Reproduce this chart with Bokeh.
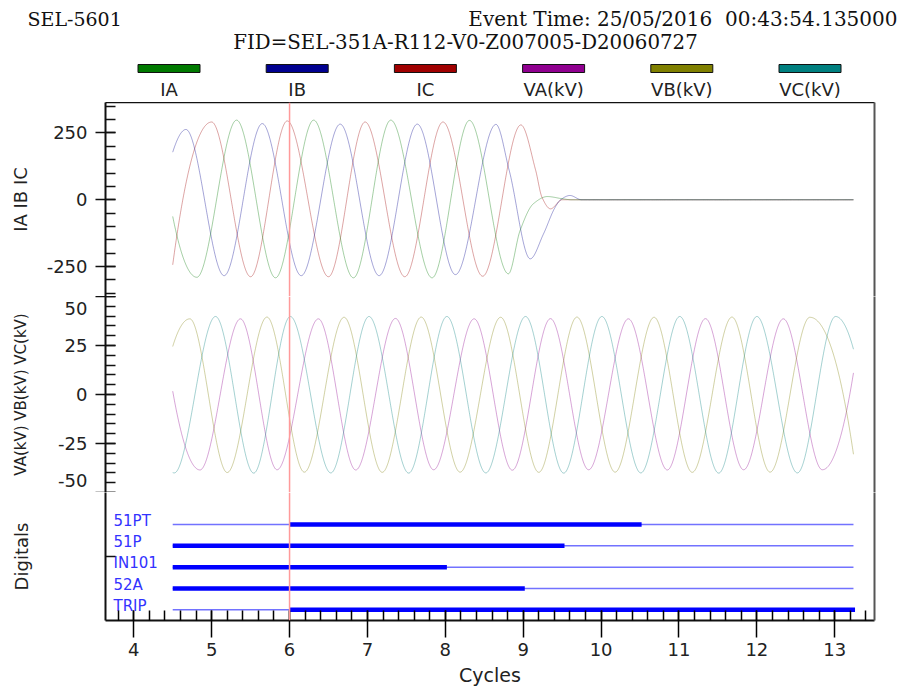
import numpy as np
from bokeh.plotting import figure
from bokeh.layouts import column, row
from bokeh.models import (Range1d, LinearAxis, SingleIntervalTicker, FixedTicker,
                          Span, ColumnDataSource)
from bokeh.core.properties import value
from bokeh.embed import file_html
from bokeh.resources import INLINE

# ---------------- event record (time in cycles) ----------------
t_start, t_end = 4.5, 13.24
cursor_t = 6.0

# phase currents: knots (time, amps) at extremes / shape points of each trace
ia_t = [4.31, 4.81, 5.32, 5.82, 6.31, 6.82, 7.30, 7.83, 8.31, 8.81, 8.96, 9.13, 9.31, 9.50, 9.62, 13.24]
ia_v = [298, -290, 298, -292, 298, -292, 298, -292, 297, -277, -115, -15, 12, 4, 0, 0]

ib_t = [4.50, 4.67, 5.16, 5.65, 6.15, 6.65, 7.15, 7.64, 8.13, 8.65, 8.82, 9.09, 9.26, 9.41, 9.48, 9.60, 9.75, 13.24]
ib_v = [178, 263, -284, 285, -284, 283, -284, 283, -280, 282, 110, -221, -128, -28, 0, 16, 0, 0]

ic_t = [4.48, 5.00, 5.50, 5.97, 6.50, 6.97, 7.48, 7.97, 8.48, 8.97, 9.16, 9.24, 9.35, 9.50, 13.24]
ic_v = [-288, 291, -288, 295, -288, 291, -288, 291, -286, 280, 110, 10, -34, 0, 0]

# phase voltages (kV): knots at peaks and troughs
va_t = [4.36, 4.85, 5.37, 5.84, 6.37, 6.85, 7.36, 7.85, 8.37, 8.86, 9.35, 9.84, 10.35, 10.85, 11.34, 11.83, 12.34, 12.84, 13.34]
va_v = [39.0, -38.5, 38.6, -38.4, 38.6, -38.5, 38.8, -38.4, 38.6, -38.6, 38.7, -38.4, 38.6, -38.5, 38.7, -38.4, 38.6, -38.4, 38.8]

vb_t = [4.21, 4.72, 5.20, 5.71, 6.19, 6.70, 7.19, 7.69, 8.19, 8.71, 9.20, 9.69, 10.18, 10.68, 11.17, 11.68, 12.17, 12.68, 13.26]
vb_v = [-40.0, 38.6, -39.8, 39.5, -39.6, 39.4, -39.7, 39.5, -39.6, 39.4, -39.7, 39.5, -39.6, 39.4, -39.7, 39.5, -39.6, 39.4, -36.0]

vc_t = [4.03, 4.52, 5.05, 5.54, 6.01, 6.53, 7.02, 7.53, 8.02, 8.52, 9.03, 9.52, 10.01, 10.51, 11.01, 11.51, 12.00, 12.52, 13.01, 13.51]
vc_v = [40.0, -40.0, 39.8, -40.1, 39.8, -40.0, 39.8, -40.1, 39.8, -40.0, 39.8, -40.1, 39.8, -40.0, 39.8, -40.1, 39.8, -40.0, 39.8, -40.0]

# digital elements: asserted interval of each
dig_names = ["51PT", "51P", "IN101", "52A", "TRIP"]
dig_rows = [4.5, 3.5, 2.5, 1.5, 0.5]
dig_on_start = [6.00, 4.50, 4.50, 4.50, 6.00]
dig_on_end = [10.52, 9.53, 8.02, 9.02, 13.26]

# axis tick labels (end labels of the voltage scale sit just inside the panel)
i_ticks = {250: "250", 0: "0", -250: "-250"}
v_ticks = {50: "\n50", 25: "25", 0: "0", -25: "-25", -50: "-50\n"}

# legend / channel names and colours
chan_names = ["IA", "IB", "IC", "VA(kV)", "VB(kV)", "VC(kV)"]
chan_colors = ["#007a00", "#000090", "#a00000", "#900090", "#808000", "#008080"]

# ---------------- layout constants ----------------
W = 900
LEFT, RIGHT = 105, 26
HEAD_H, I_H, V_H, D_H, BOTTOM = 102, 194, 196, 130, 66
X_RANGE = (3.637, 13.51)
SANS = "DejaVu Sans"
SERIF = "DejaVu Serif"


def pchip(tk, vk, t):
    """Monotone cubic curve through the knots (flat at extremes)."""
    tk = np.asarray(tk, float)
    vk = np.asarray(vk, float)
    h = np.diff(tk)
    d = np.diff(vk) / h
    n = len(tk)
    m = np.zeros(n)
    for k in range(1, n - 1):
        if d[k - 1] * d[k] > 0:
            w1 = 2 * h[k] + h[k - 1]
            w2 = h[k] + 2 * h[k - 1]
            m[k] = (w1 + w2) / (w1 / d[k - 1] + w2 / d[k])

    def end_slope(h0, h1, d0, d1):
        mm = ((2 * h0 + h1) * d0 - h0 * d1) / (h0 + h1)
        if np.sign(mm) != np.sign(d0):
            return 0.0
        if np.sign(d0) != np.sign(d1) and abs(mm) > 3 * abs(d0):
            return 3 * d0
        return mm

    m[0] = end_slope(h[0], h[1], d[0], d[1])
    m[-1] = end_slope(h[-1], h[-2], d[-1], d[-2])
    idx = np.clip(np.searchsorted(tk, t, side="right") - 1, 0, n - 2)
    s = (t - tk[idx]) / h[idx]
    h00 = 2 * s**3 - 3 * s**2 + 1
    h10 = s**3 - 2 * s**2 + s
    h01 = -2 * s**3 + 3 * s**2
    h11 = s**3 - s**2
    return h00 * vk[idx] + h10 * h[idx] * m[idx] + h01 * vk[idx + 1] + h11 * h[idx] * m[idx + 1]


tt = np.linspace(t_start, t_end, 2000)
xr = Range1d(*X_RANGE)


def style_left_axis(ax, label, label_size, standoff):
    ax.axis_label = label
    ax.axis_label_text_font = SANS
    ax.axis_label_text_font_size = label_size
    ax.axis_label_text_font_style = "normal"
    ax.axis_label_text_color = "#222222"
    ax.axis_label_standoff = standoff
    ax.major_label_text_font = SANS
    ax.major_label_text_font_size = "18px"
    ax.major_label_text_color = "#222222"
    ax.major_label_standoff = 8
    ax.axis_line_width = 2
    ax.axis_line_color = "#111111"
    ax.major_tick_line_width = 1.5
    ax.minor_tick_line_width = 1.5
    ax.major_tick_line_color = "#111111"
    ax.minor_tick_line_color = "#111111"
    ax.major_tick_in = 10
    ax.major_tick_out = 10
    ax.minor_tick_in = 10
    ax.minor_tick_out = 0


def border_axis(p, side, color, width):
    ax = LinearAxis(ticker=FixedTicker(ticks=[]), axis_line_color=color,
                    axis_line_width=width, major_tick_in=0, major_tick_out=0,
                    minor_tick_in=0, minor_tick_out=0, major_label_standoff=0,
                    axis_label_standoff=0)
    p.add_layout(ax, side)


def panel(height, y_range, bottom=0):
    p = figure(width=W, height=height, x_range=xr, y_range=y_range,
               toolbar_location=None, output_backend="svg",
               x_axis_location=None, min_border_left=LEFT, min_border_right=RIGHT,
               min_border_top=0, min_border_bottom=bottom,
               outline_line_color=None, background_fill_color="white",
               border_fill_color="white")
    p.grid.visible = False
    border_axis(p, "right", "#555555", 2)
    p.add_layout(Span(location=cursor_t, dimension="height",
                      line_color="#ff9a9a", line_width=1.5))
    return p


# ---------------- header: titles and channel legend ----------------
hdr = figure(width=W, height=HEAD_H, x_range=Range1d(0, W), y_range=Range1d(HEAD_H, 0),
             toolbar_location=None, output_backend="svg", x_axis_type=None,
             y_axis_type=None, min_border=0, outline_line_color=None)
hdr.grid.visible = False
hdr.text(x=[27], y=[18], text=["SEL-5601"], text_font=value(SERIF),
         text_font_size="19px", text_align="left", text_baseline="middle", text_color="#111111")
hdr.text(x=[897], y=[18], text=["Event Time: 25/05/2016 \u00a000:43:54.135000"],
         text_font=value(SERIF), text_font_size="20px", text_align="right",
         text_baseline="middle", text_color="#111111")
hdr.text(x=[465], y=[42], text=["FID=SEL-351A-R112-V0-Z007005-D20060727"],
         text_font=value(SERIF), text_font_size="19.8px", text_align="center",
         text_baseline="middle", text_color="#111111")
leg_x = [168.5 + 128.2 * i for i in range(len(chan_names))]
hdr.rect(x=leg_x, y=[68] * 6, width=62, height=8, fill_color=chan_colors,
         line_color="#111111", line_width=1)
hdr.text(x=leg_x, y=[89] * 6, text=chan_names, text_font=value(SANS),
         text_font_size="18px", text_align="center", text_baseline="middle",
         text_color="#222222")

# ---------------- currents (IA drawn last so it sits on top) ----------------
pI = panel(I_H, Range1d(-362, 364))
border_axis(pI, "above", "#111111", 1.5)
axI = pI.left[0]
axI.ticker = SingleIntervalTicker(interval=250, num_minor_ticks=5)
axI.major_label_overrides = i_ticks
style_left_axis(axI, "IA IB IC", "18px", 13)
for tk, vk, c in zip([ic_t, ib_t, ia_t], [ic_v, ib_v, ia_v], chan_colors[2::-1]):
    pI.line(tt, pchip(tk, vk, tt), line_color=c, line_width=1, line_alpha=0.36)

# ---------------- voltages ----------------
pV = panel(V_H, Range1d(-50, 50))
axV = pV.left[0]
axV.ticker = SingleIntervalTicker(interval=25, num_minor_ticks=5)
axV.major_label_overrides = v_ticks
style_left_axis(axV, "VA(kV) VB(kV) VC(kV)", "15px", 25)
axV.major_label_text_line_height = 0.05
for tk, vk, c in zip([va_t, vb_t, vc_t], [va_v, vb_v, vc_v], chan_colors[3:]):
    pV.line(tt, pchip(tk, vk, tt), line_color=c, line_width=1, line_alpha=0.36)

# ---------------- digitals ----------------
pD = panel(D_H + BOTTOM, Range1d(0, 6), bottom=BOTTOM)
axD = pD.left[0]
axD.ticker = FixedTicker(ticks=[3])
axD.major_label_overrides = {3: ""}
style_left_axis(axD, "Digitals", "18px", 74)
axD.major_tick_out = 0

xax = LinearAxis(ticker=SingleIntervalTicker(interval=1, num_minor_ticks=5),
                 axis_label="Cycles", axis_label_text_font=SANS,
                 axis_label_text_font_size="19px", axis_label_text_font_style="normal",
                 axis_label_text_color="#222222", axis_label_standoff=5,
                 axis_label_text_line_height=0.9,
                 major_label_text_font=SANS, major_label_text_font_size="18px",
                 major_label_text_color="#222222", major_label_standoff=5,
                 major_label_text_line_height=0.9,
                 axis_line_width=2, axis_line_color="#111111",
                 major_tick_line_width=1.5, minor_tick_line_width=1.5,
                 major_tick_in=10, major_tick_out=17, minor_tick_in=10, minor_tick_out=0)
pD.add_layout(xax, "below")

dsrc = ColumnDataSource(dict(name=dig_names, row=dig_rows, on0=dig_on_start, on1=dig_on_end,
                             t0=[t_start] * len(dig_names), t1=[t_end] * len(dig_names),
                             lx=[X_RANGE[0]] * len(dig_names)))
pD.segment(x0="t0", y0="row", x1="t1", y1="row", source=dsrc,
           line_color="#7272ff", line_width=1.5)
pD.segment(x0="on0", y0="row", x1="on1", y1="row", source=dsrc,
           line_color="#0000ff", line_width=4.5)
pD.text(x="lx", y="row", text="name", source=dsrc, x_offset=8, y_offset=-4,
        text_font=value(SANS), text_font_size="15px", text_color="#3333ff",
        text_baseline="alphabetic", text_align="left")

layout = column(row(hdr), column(pI, pV, pD, spacing=0), spacing=0)
open("out.html", "w").write(file_html(layout, INLINE))
